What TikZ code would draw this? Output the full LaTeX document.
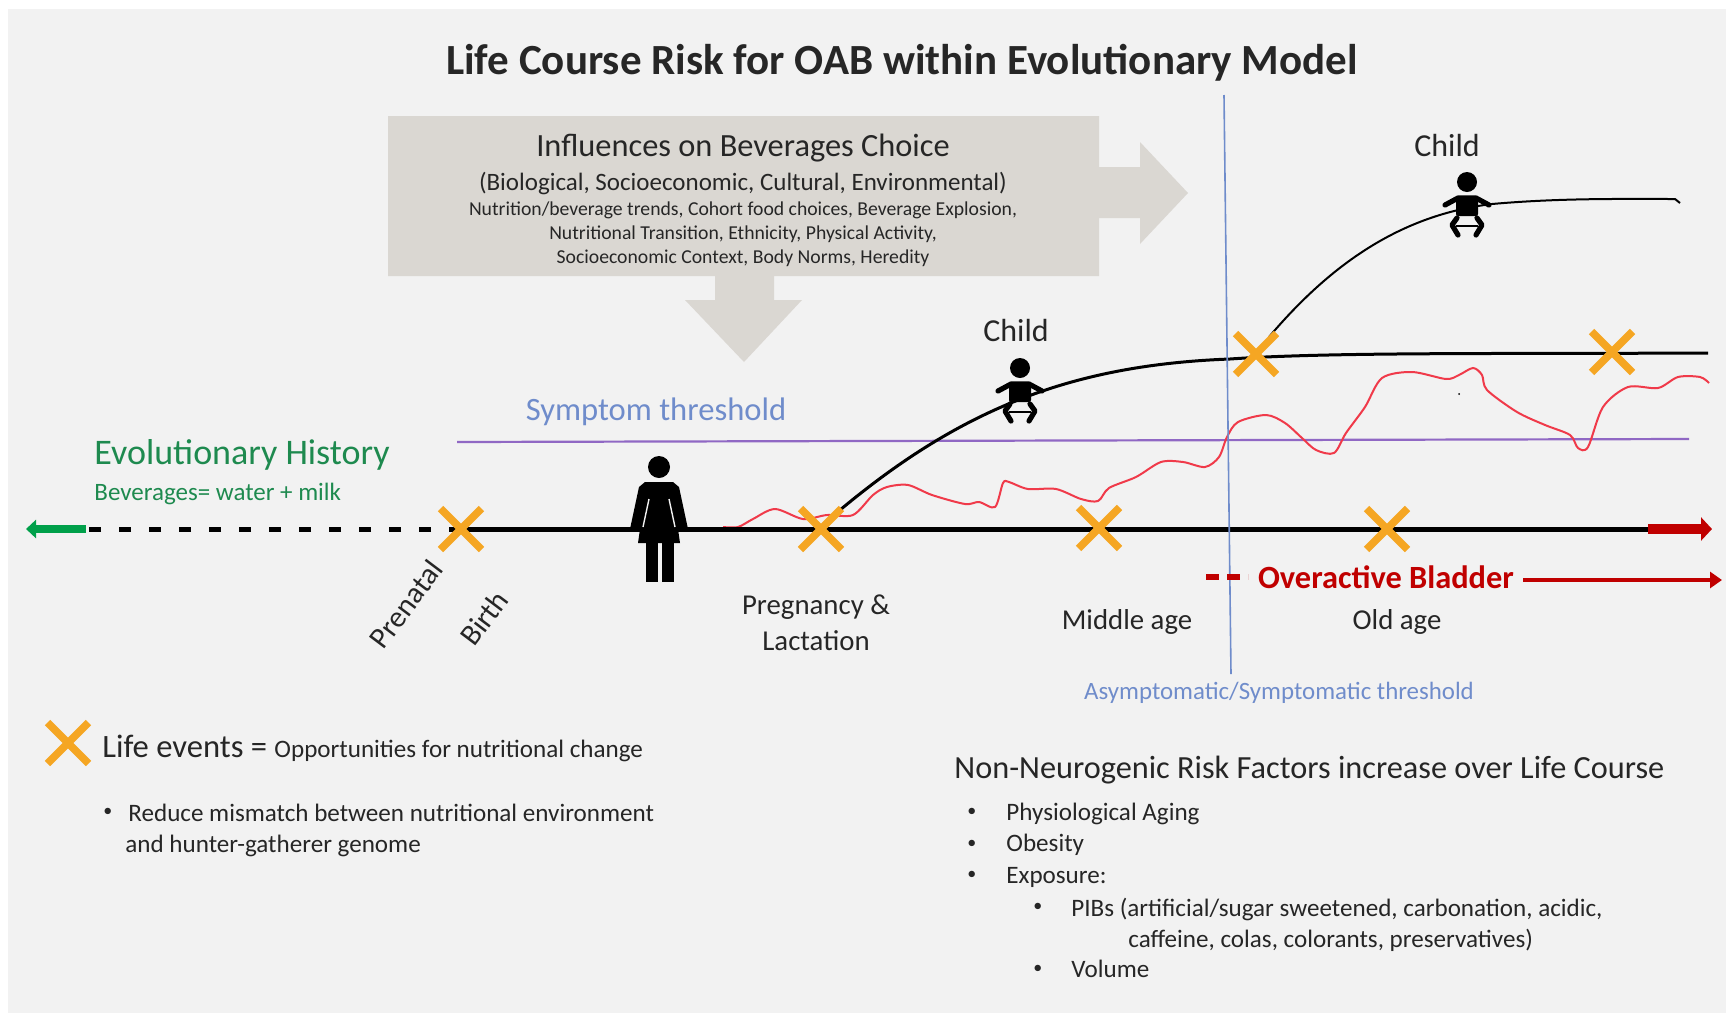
\documentclass[tikz,border=0pt]{standalone}
\usepackage{fontspec}
\setmainfont{Carlito}
\usetikzlibrary{arrows.meta,shapes.misc}
\definecolor{panelgray}{HTML}{F2F2F2}
\definecolor{boxgray}{HTML}{DAD7D2}
\definecolor{eventorange}{HTML}{F5A623}
\definecolor{histgreen}{HTML}{1E8A4F}
\definecolor{arrowgreen}{HTML}{00A04A}
\definecolor{oabred}{HTML}{C00000}
\definecolor{riskred}{HTML}{F03A4A}
\definecolor{threshblue}{HTML}{6F8CCB}
\definecolor{threshpurple}{HTML}{9068C4}
\definecolor{textdark}{HTML}{262626}
\newcommand{\fsz}[1]{\fontsize{#1}{#1}\selectfont}
\tikzset{
  baby/.pic={
    \fill circle[radius=10];
    \draw[line width=2.6pt,line cap=round,line join=round] (-22,23) -- (-9,16) -- (9,16) -- (22,23);
    \fill[rounded corners=1pt] (-11,14) rectangle (11,34);
    \draw[line width=2.6pt,line cap=round,line join=round] (-10,36) -- (-15,43) -- (-9,53);
    \draw[line width=2.6pt,line cap=round,line join=round] (10,36) -- (15,43) -- (9,53);
    \draw[line width=1pt] (-11,44) -- (11,44);
  },
  woman/.pic={
    \fill circle[radius=11];
    \fill (-14,15) -- (14,15) -- (20,20) -- (29,62) -- (19,62) -- (21,76) -- (-21,76) -- (-19,62) -- (-29,62) -- (-20,20) -- cycle;
    \draw[panelgray,line width=.7pt] (-10,32) -- (-16,60);
    \draw[panelgray,line width=.7pt] (10,32) -- (16,60);
    \fill (-13,76) rectangle (-1,115);
    \fill (3,76) rectangle (15,115);
  }
}
\begin{document}
\begin{tikzpicture}[x=.5pt,y=-.5pt,
    life node/.style={cross out,draw=eventorange,line width=3.8pt,minimum size=20.5pt,inner sep=0pt,outer sep=0pt},
    dark text/.style={text=textdark,inner sep=0pt},
    left text/.style={dark text,anchor=west},
    figure label/.style={dark text,font=\fsz{14.4}},
    risk text/.style={left text,font=\fsz{12.55}},
    bullet text/.style={left text,font=\fsz{9}}]
\useasboundingbox (0,0) rectangle (1726,1013);
\fill[white] (0,0) rectangle (1726,1013);
\fill[panelgray] (8,9) rectangle (1726,1013);

\fill[boxgray] (388,116) -- (1099,116) -- (1099,167) -- (1140,167) -- (1140,142) -- (1188,193) -- (1140,244) -- (1140,218) -- (1099,218) -- (1099,276) -- (774,276) -- (774,300) -- (802,300) -- (744,362) -- (685,300) -- (715,300) -- (715,276) -- (388,276) -- cycle;

\node[dark text,font=\bfseries\fsz{21.5}] (title) at (902,63) {Life Course Risk for OAB within Evolutionary Model};
\node[dark text,font=\fsz{16.2}] (infl) at (743,148) {Influences on Beverages Choice};
\node[dark text,font=\fsz{12.5}] (infl2) at (743,183) {(Biological, Socioeconomic, Cultural, Environmental)};
\node[dark text,font=\fsz{9.85}] (infl3) at (743,210) {Nutrition/beverage trends, Cohort food choices, Beverage Explosion,};
\node[dark text,font=\fsz{9.85}] (infl4) at (743,234) {Nutritional Transition, Ethnicity, Physical Activity,};
\node[dark text,font=\fsz{9.85}] (infl5) at (743,258) {Socioeconomic Context, Body Norms, Heredity};

\coordinate (hist) at (86,529);
\coordinate (birth) at (461,529);
\coordinate (preg) at (821,529);
\coordinate (mid) at (1099,528);
\coordinate (old) at (1387,529);
\coordinate (redstart) at (1648,529);
\coordinate (redend) at (1712,529);
\coordinate (greenend) at (26,529);
\coordinate (curveA) at (1256,354);
\coordinate (curveB) at (1612,352);
\coordinate (lowS) at (840,510);
\coordinate (lowM) at (1230,359);
\coordinate (lowE) at (1708,353);
\coordinate (upS) at (1269,337);
\coordinate (upM) at (1492,204);
\coordinate (upE) at (1675,199);
\coordinate (upT) at (1680,203);

\draw[threshpurple,line width=1.1pt] (457,442) coordinate (symL) -- (1689,439) coordinate (symR);
\draw[black,line width=1.5pt] (lowS) .. controls (960,410) and (1070,365) .. (lowM) .. controls (1330,352) and (1500,354) .. (lowE);
\draw[black,line width=1pt] (upS) .. controls (1330,265) and (1400,215) .. (upM) .. controls (1560,198) and (1620,199) .. (upE) -- (upT);
\draw[riskred,line width=1pt] plot[smooth,tension=.5] coordinates {(723,527) (738,527) (753,519) (775,509) (803,519) (827,515) (853,515) (873,495) (887,487) (908,485) (932,495) (965,504) (979,502) (995,507) (1003,483) (1009,482) (1028,489) (1056,489) (1081,499) (1098,501) (1109,488) (1136,477) (1161,462) (1183,462) (1205,467) (1219,457) (1227,437) (1238,422) (1266,415) (1285,423) (1302,438) (1316,450) (1334,453) (1346,433) (1365,407) (1382,378) (1412,372) (1446,379) (1459,375) (1473,368) (1482,375) (1487,390) (1517,412) (1545,425) (1570,435) (1578,448) (1588,447) (1603,407) (1628,387) (1658,388) (1678,377) (1700,377) (1709,383)};
\fill[black] (1459,394) circle[radius=1];

\draw[black,line width=2.5pt,dash pattern=on 6pt off 9pt] (birth) -- (hist);
\draw[black,line width=2.5pt] (birth) -- (redstart);
\draw[arrowgreen,line width=4pt,-{Triangle[length=5pt,width=9pt]}] (hist) -- (greenend);
\draw[oabred,line width=5pt,-{Triangle[length=5.5pt,width=11.5pt]}] (redstart) -- (redend);
\draw[threshblue,line width=.8pt] (1224,95) coordinate (asymT) -- (1231,674) coordinate (asymB);

\node[life node] (xbirth) at (birth) {};
\node[life node] (xpreg) at (preg) {};
\node[life node] (xmid) at (mid) {};
\node[life node] (xold) at (old) {};
\node[life node] (xcurveA) at (curveA) {};
\node[life node] (xcurveB) at (curveB) {};
\node[life node] (xlegend) at (68,743) {};

\pic at (659,467) {woman};
\pic at (1020,368) {baby};
\pic at (1467,182) {baby};

\node[dark text,font=\fsz{16}] (child1) at (1447,145) {Child};
\node[dark text,font=\fsz{16}] (child2) at (1016,330) {Child};
\node[text=threshblue,inner sep=0pt,font=\fsz{16.3}] (sym) at (656,412) {Symptom threshold};
\node[text=histgreen,inner sep=0pt,anchor=west,font=\fsz{18}] (evo) at (94,455) {Evolutionary History};
\node[text=histgreen,inner sep=0pt,anchor=west,font=\fsz{12.5}] (bev) at (94,494) {Beverages= water + milk};
\node[dark text,rotate=53,font=\fsz{15}] (prenatal) at (406,604) {Prenatal};
\node[dark text,rotate=53,font=\fsz{15}] (birthl) at (484,618) {Birth};
\node[figure label] (pregl) at (816,607) {Pregnancy \&};
\node[figure label] (lact) at (816,641) {Lactation};
\node[figure label] (midl) at (1127,622) {Middle age};
\node[figure label] (oldl) at (1397,622) {Old age};
\node[text=oabred,inner sep=0pt,font=\bfseries\fsz{16.2}] (oab) at (1386,577) {Overactive Bladder};
\coordinate (dashL) at (1206,577);
\coordinate (dashR) at (1248,577);
\coordinate (oabS) at (1523,580);
\coordinate (oabE) at (1722,580);
\draw[oabred,line width=3pt,dash pattern=on 6.5pt off 4pt] (dashL) -- (dashR);
\draw[oabred,line width=2.4pt,-{Triangle[length=6pt,width=8pt]}] (oabS) -- (oabE);
\node[text=threshblue,inner sep=0pt,font=\fsz{12.45}] (asym) at (1279,693) {Asymptomatic/Symptomatic threshold};

\node[left text] (life) at (102,748) {\fsz{16.3}Life events = \fsz{12.55}Opportunities for nutritional change};
\node[bullet text] (b1) at (103,812) {•};
\node[risk text] (r1) at (128,813) {Reduce mismatch between nutritional environment};
\node[risk text] (r2) at (125,846) {and hunter-gatherer genome};
\node[left text,font=\fsz{16.15}] (nn) at (954,770) {Non-Neurogenic Risk Factors increase over Life Course};
\node[bullet text] (b2) at (967,812) {•};
\node[risk text] (f1) at (1006,814) {Physiological Aging};
\node[bullet text] (b3) at (967,844) {•};
\node[risk text] (f2) at (1006,845) {Obesity};
\node[bullet text] (b4) at (967,875) {•};
\node[risk text] (f3) at (1006,877) {Exposure:};
\node[bullet text] (b5) at (1033,907) {•};
\node[risk text] (f4) at (1071,909) {PIBs (artificial/sugar sweetened, carbonation, acidic,};
\node[risk text] (f5) at (1128,940) {caffeine, colas, colorants, preservatives)};
\node[bullet text] (b6) at (1033,969) {•};
\node[risk text] (f6) at (1071,969) {Volume};
\end{tikzpicture}
\end{document}
